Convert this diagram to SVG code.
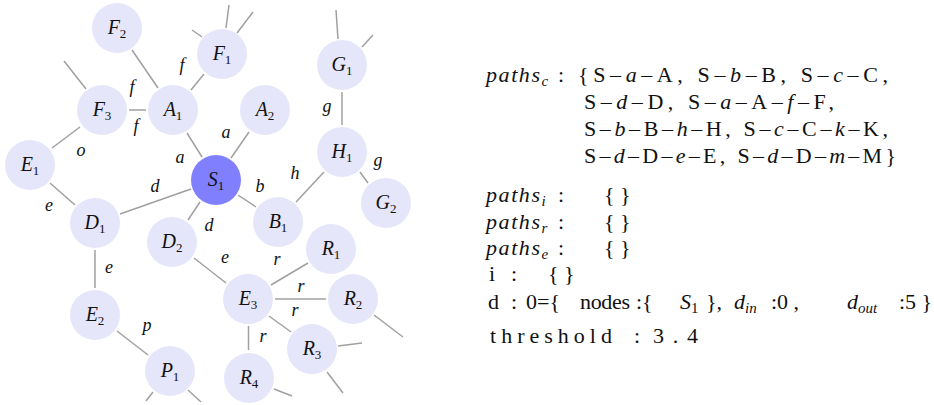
<svg xmlns="http://www.w3.org/2000/svg" width="934" height="405" viewBox="0 0 934 405">
  <style>
    .edge { stroke: #a0a0a0; stroke-width: 1.5; fill: none; }
    .node { fill: #e6e6fb; }
    .src { fill: #8080ff; }
    .nl { font-family: "Liberation Serif", "Times New Roman", serif; font-size: 20px; fill: #111; text-anchor: middle; }
    .it { font-style: italic; }
    .sub { font-size: 13px; font-style: normal; }
    .el { font-family: "Liberation Serif", "Times New Roman", serif; font-style: italic; font-size: 18px; fill: #111; text-anchor: middle; }
    .tx { font-family: "Liberation Serif", "Times New Roman", serif; font-size: 22px; fill: #111; }
    .ts { font-size: 15px; }
  </style>

  <!-- connectors -->
  <g id="edges">
    <line class="edge" x1="132" y1="50" x2="158" y2="88"/>
    <line class="edge" x1="129" y1="110" x2="146" y2="110"/>
    <line class="edge" x1="191" y1="90" x2="204" y2="74"/>
    <line class="edge" x1="80" y1="127" x2="52" y2="148"/>
    <line class="edge" x1="187" y1="133" x2="202" y2="157"/>
    <line class="edge" x1="231" y1="158" x2="249" y2="132"/>
    <line class="edge" x1="50" y1="183" x2="75" y2="205"/>
    <line class="edge" x1="191" y1="189" x2="120" y2="214"/>
    <line class="edge" x1="200" y1="202" x2="188" y2="220"/>
    <line class="edge" x1="238" y1="195" x2="256" y2="207"/>
    <line class="edge" x1="296" y1="202" x2="324" y2="172"/>
    <line class="edge" x1="342" y1="92" x2="342" y2="125"/>
    <line class="edge" x1="360" y1="172" x2="368" y2="183"/>
    <line class="edge" x1="95" y1="250" x2="95" y2="288"/>
    <line class="edge" x1="117" y1="331" x2="148" y2="355"/>
    <line class="edge" x1="194" y1="258" x2="226" y2="283"/>
    <line class="edge" x1="271" y1="285" x2="308" y2="263"/>
    <line class="edge" x1="275" y1="299" x2="326" y2="299"/>
    <line class="edge" x1="269" y1="316" x2="291" y2="332"/>
    <line class="edge" x1="248.5" y1="326" x2="248.5" y2="350"/>
    <!-- open ends -->
    <line class="edge" x1="192" y1="30" x2="202" y2="37"/>
    <line class="edge" x1="226" y1="28" x2="229" y2="5"/>
    <line class="edge" x1="237" y1="33" x2="253" y2="12"/>
    <line class="edge" x1="64" y1="61" x2="86" y2="89"/>
    <line class="edge" x1="338" y1="39" x2="336" y2="10"/>
    <line class="edge" x1="362" y1="47" x2="373" y2="35"/>
    <line class="edge" x1="153" y1="392" x2="146" y2="401"/>
    <line class="edge" x1="188" y1="390" x2="201" y2="402"/>
    <line class="edge" x1="374" y1="315" x2="403" y2="337"/>
    <line class="edge" x1="338" y1="346" x2="362" y2="343"/>
    <line class="edge" x1="327" y1="372" x2="343" y2="393"/>
    <line class="edge" x1="274" y1="389" x2="292" y2="396"/>
  </g>

  <!-- edge labels -->
  <g id="edge-labels">
    <text class="el" x="132" y="93">f</text>
    <text class="el" x="136" y="132">f</text>
    <text class="el" x="182" y="71">f</text>
    <text class="el" x="81" y="156">o</text>
    <text class="el" x="180" y="163">a</text>
    <text class="el" x="226" y="138">a</text>
    <text class="el" x="49" y="211">e</text>
    <text class="el" x="155" y="192">d</text>
    <text class="el" x="209" y="231">d</text>
    <text class="el" x="260" y="192">b</text>
    <text class="el" x="295" y="179">h</text>
    <text class="el" x="327" y="112">g</text>
    <text class="el" x="378" y="166">g</text>
    <text class="el" x="109" y="273">e</text>
    <text class="el" x="147" y="331">p</text>
    <text class="el" x="225" y="263">e</text>
    <text class="el" x="277" y="265">r</text>
    <text class="el" x="301" y="292">r</text>
    <text class="el" x="295" y="316">r</text>
    <text class="el" x="263" y="342">r</text>
  </g>

  <!-- nodes -->
  <g id="F2"><circle class="node" cx="117" cy="28" r="25"/><text class="nl" x="117" y="34"><tspan class="it">F</tspan><tspan class="sub" dy="4">2</tspan></text></g>
  <g id="F1"><circle class="node" cx="222" cy="54" r="25"/><text class="nl" x="222" y="60"><tspan class="it">F</tspan><tspan class="sub" dy="4">1</tspan></text></g>
  <g id="G1"><circle class="node" cx="342" cy="65" r="25"/><text class="nl" x="342" y="71"><tspan class="it">G</tspan><tspan class="sub" dy="4">1</tspan></text></g>
  <g id="F3"><circle class="node" cx="102" cy="110" r="25"/><text class="nl" x="102" y="116"><tspan class="it">F</tspan><tspan class="sub" dy="4">3</tspan></text></g>
  <g id="A1"><circle class="node" cx="173" cy="110" r="25"/><text class="nl" x="173" y="116"><tspan class="it">A</tspan><tspan class="sub" dy="4">1</tspan></text></g>
  <g id="A2"><circle class="node" cx="265" cy="110" r="25"/><text class="nl" x="265" y="116"><tspan class="it">A</tspan><tspan class="sub" dy="4">2</tspan></text></g>
  <g id="H1"><circle class="node" cx="342" cy="152" r="25"/><text class="nl" x="342" y="158"><tspan class="it">H</tspan><tspan class="sub" dy="4">1</tspan></text></g>
  <g id="E1"><circle class="node" cx="30" cy="165" r="25"/><text class="nl" x="30" y="171"><tspan class="it">E</tspan><tspan class="sub" dy="4">1</tspan></text></g>
  <g id="S1"><circle class="src" cx="216" cy="180" r="25"/><text class="nl" x="216" y="186"><tspan class="it">S</tspan><tspan class="sub" dy="4">1</tspan></text></g>
  <g id="G2"><circle class="node" cx="386" cy="203" r="25"/><text class="nl" x="386" y="209"><tspan class="it">G</tspan><tspan class="sub" dy="4">2</tspan></text></g>
  <g id="D1"><circle class="node" cx="95" cy="223" r="25"/><text class="nl" x="95" y="229"><tspan class="it">D</tspan><tspan class="sub" dy="4">1</tspan></text></g>
  <g id="B1"><circle class="node" cx="278" cy="222" r="25"/><text class="nl" x="278" y="228"><tspan class="it">B</tspan><tspan class="sub" dy="4">1</tspan></text></g>
  <g id="D2"><circle class="node" cx="172" cy="242" r="25"/><text class="nl" x="172" y="248"><tspan class="it">D</tspan><tspan class="sub" dy="4">2</tspan></text></g>
  <g id="R1"><circle class="node" cx="331" cy="249" r="25"/><text class="nl" x="331" y="255"><tspan class="it">R</tspan><tspan class="sub" dy="4">1</tspan></text></g>
  <g id="E3"><circle class="node" cx="248" cy="299" r="25"/><text class="nl" x="248" y="305"><tspan class="it">E</tspan><tspan class="sub" dy="4">3</tspan></text></g>
  <g id="R2"><circle class="node" cx="353" cy="299" r="25"/><text class="nl" x="353" y="305"><tspan class="it">R</tspan><tspan class="sub" dy="4">2</tspan></text></g>
  <g id="E2"><circle class="node" cx="95" cy="315" r="25"/><text class="nl" x="95" y="321"><tspan class="it">E</tspan><tspan class="sub" dy="4">2</tspan></text></g>
  <g id="R3"><circle class="node" cx="312" cy="349" r="25"/><text class="nl" x="312" y="355"><tspan class="it">R</tspan><tspan class="sub" dy="4">3</tspan></text></g>
  <g id="P1"><circle class="node" cx="170" cy="371" r="25"/><text class="nl" x="170" y="377"><tspan class="it">P</tspan><tspan class="sub" dy="4">1</tspan></text></g>
  <g id="R4"><circle class="node" cx="249" cy="378" r="25"/><text class="nl" x="249" y="384"><tspan class="it">R</tspan><tspan class="sub" dy="4">4</tspan></text></g>

  <!-- state listing -->
  <g id="state" class="tx">
    <text x="486" y="82"><tspan class="it" textLength="54" lengthAdjust="spacing">paths</tspan><tspan class="ts it" dy="4">c</tspan></text>
    <text x="558" y="82">:</text>
    <text x="578" y="82" textLength="310" lengthAdjust="spacing">{S–<tspan class="it">a</tspan>–A,  S–<tspan class="it">b</tspan>–B,  S–<tspan class="it">c</tspan>–C,</text>
    <text x="584" y="109" textLength="250" lengthAdjust="spacing">S–<tspan class="it">d</tspan>–D,  S–<tspan class="it">a</tspan>–A–<tspan class="it">f</tspan>–F,</text>
    <text x="584" y="136" textLength="304" lengthAdjust="spacing">S–<tspan class="it">b</tspan>–B–<tspan class="it">h</tspan>–H,  S–<tspan class="it">c</tspan>–C–<tspan class="it">k</tspan>–K,</text>
    <text x="584" y="163" textLength="312" lengthAdjust="spacing">S–<tspan class="it">d</tspan>–D–<tspan class="it">e</tspan>–E,  S–<tspan class="it">d</tspan>–D–<tspan class="it">m</tspan>–M}</text>

    <text x="486" y="202"><tspan class="it" textLength="54" lengthAdjust="spacing">paths</tspan><tspan class="ts it" dy="4">i</tspan></text>
    <text x="558" y="202">:</text>
    <text x="604" y="202">{ }</text>
    <text x="486" y="229"><tspan class="it" textLength="54" lengthAdjust="spacing">paths</tspan><tspan class="ts it" dy="4">r</tspan></text>
    <text x="558" y="229">:</text>
    <text x="604" y="229">{ }</text>
    <text x="486" y="255"><tspan class="it" textLength="54" lengthAdjust="spacing">paths</tspan><tspan class="ts it" dy="4">e</tspan></text>
    <text x="558" y="255">:</text>
    <text x="604" y="255">{ }</text>

    <text x="489" y="281">i</text>
    <text x="511" y="281">:</text>
    <text x="548" y="281">{ }</text>

    <text x="488" y="309">d</text>
    <text x="511" y="309">:</text>
    <text x="526" y="309">0={</text>
    <text x="580" y="309" textLength="50" lengthAdjust="spacing">nodes</text>
    <text x="636" y="309">:{</text>
    <text x="680" y="309"><tspan class="it">S</tspan><tspan class="ts" dy="4">1</tspan></text>
    <text x="706" y="309">},</text>
    <text x="734" y="309"><tspan class="it">d</tspan><tspan class="ts it" dy="4">in</tspan></text>
    <text x="771" y="309">:0 ,</text>
    <text x="847" y="309"><tspan class="it">d</tspan><tspan class="ts it" dy="4">out</tspan></text>
    <text x="899" y="309">:5 }</text>

    <text x="490" y="343" textLength="122" lengthAdjust="spacing">threshold</text>
    <text x="634" y="343">:</text>
    <text x="653" y="343" textLength="45" lengthAdjust="spacing">3.4</text>
  </g>
</svg>
